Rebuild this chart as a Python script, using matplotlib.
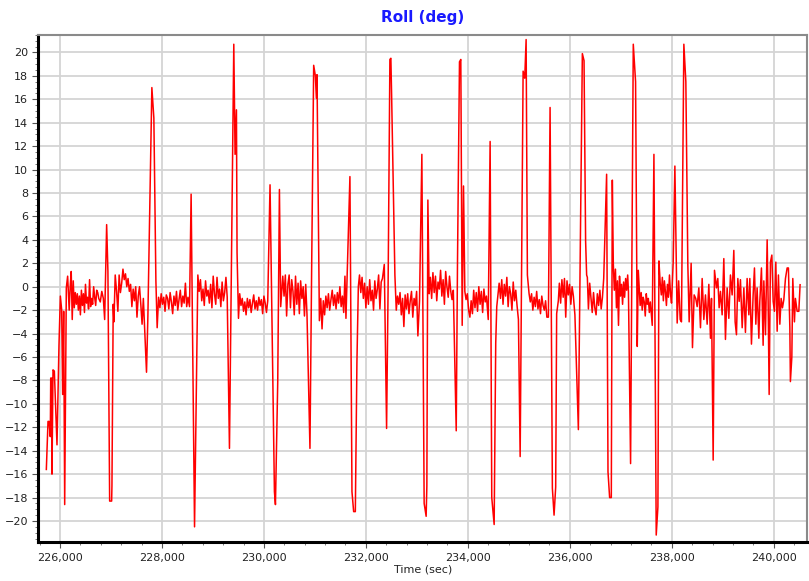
import matplotlib
matplotlib.use("Agg")
import matplotlib.pyplot as plt
from matplotlib.ticker import MultipleLocator, FuncFormatter

# ---- data: (time sec, roll deg), grouped by segment ----
seg_start = [(225732, -15.6), (225765, -11.5), (225785, -11.5), (225810, -12.8), (225818, -7.8),
             (225837, -7.8), (225843, -16.0), (225863, -7.1), (225889, -7.2), (225941, -13.5),
             (225980, -5.0), (226007, -0.8), (226033, -2.0), (226052, -9.2), (226072, -2.1),
             (226092, -18.6), (226124, -0.1)]
seg_a = [(226150, 0.9), (226180, -2.0), (226200, 0.0), (226220, 1.3), (226240, -2.8), (226260, 0.5),
         (226280, -1.8), (226300, -0.5), (226320, -1.5), (226340, -0.6), (226360, -2.0), (226380, -0.8),
         (226400, -2.4), (226420, -0.3), (226440, -1.6), (226460, -0.6), (226480, -2.2), (226500, 0.2),
         (226520, -1.4), (226540, -0.9), (226560, -1.9), (226580, 0.6), (226600, -1.7), (226620, -1.0),
         (226640, -1.5), (226660, 0.0), (226680, -0.9), (226700, -1.6), (226720, -0.3), (226740, -0.5),
         (226760, -1.0), (226790, -1.3), (226820, -0.4), (226850, -1.0), (226876, -2.8)]
spike_01 = [(226915, 5.3), (226940, 1.3), (226974, -18.3), (227013, -18.3), (227019, -17.0),
            (227044, -1.5), (227058, -3.0), (227083, 1.0)]
seg_b = [(227110, -0.4), (227135, -2.1), (227160, 1.0), (227185, -0.5), (227210, 0.3), (227235, 1.5),
         (227260, 0.6), (227285, 1.1), (227310, 0.0), (227335, 0.7), (227360, -0.4), (227385, 0.2),
         (227410, -1.7), (227435, -0.2), (227460, -1.2), (227485, 0.0), (227510, -2.6), (227535, -0.8),
         (227560, 0.0), (227585, -1.5), (227610, -3.2), (227635, -1.0)]
spike_02 = [(227697, -7.3), (227724, -2.5), (227802, 17.0), (227841, 14.4), (227881, 0.5),
            (227906, -3.5), (227934, -0.9)]
seg_c = [(227960, -1.8), (227985, -0.6), (228010, -1.5), (228035, -0.9), (228060, -2.1), (228085, -0.7),
         (228110, -1.0), (228135, -1.9), (228160, -0.5), (228185, -1.3), (228210, -2.3), (228235, -0.8),
         (228260, -1.6), (228285, -0.4), (228310, -2.0), (228335, -1.1), (228360, -0.3), (228385, -1.7),
         (228410, -0.8), (228435, -1.4), (228460, 0.3), (228485, -1.7), (228510, -0.9), (228541, -1.7)]
spike_03 = [(228572, 7.9), (228639, -20.5), (228704, 1.0)]
seg_d = [(228730, -0.4), (228755, 0.6), (228780, -1.2), (228805, -0.2), (228830, -1.6), (228855, 0.5),
         (228880, -0.8), (228905, -0.3), (228930, -1.4), (228955, 0.2), (228980, -1.8), (229005, 0.9),
         (229030, -0.6), (229055, -1.5), (229080, 0.8), (229105, -1.0), (229130, -0.2), (229155, -1.7),
         (229180, 0.4), (229205, -1.2), (229230, -0.5), (229255, 0.8), (229280, -0.9)]
spike_04 = [(229324, -13.8), (229409, 20.7), (229434, 11.3), (229461, 15.1), (229473, 2.9), (229501, -2.7)]
seg_e = [(229525, -0.6), (229550, -1.6), (229575, -1.0), (229600, -2.1), (229625, -1.3), (229650, -2.4),
         (229675, -1.0), (229700, -1.8), (229725, -1.1), (229750, -2.2), (229775, -1.4), (229800, -0.7),
         (229825, -1.9), (229850, -1.2), (229875, -2.0), (229900, -0.9), (229925, -1.6), (229950, -1.1),
         (229975, -2.3), (230000, -0.8), (230025, -1.4), (230050, -2.2), (230075, -1.2)]
spike_05 = [(230120, 8.7), (230206, -17.5), (230226, -18.6), (230271, -8.1), (230304, 8.3), (230329, -1.7)]
seg_f = [(230370, 0.9), (230395, -0.8), (230420, 1.0), (230445, -2.5), (230470, 0.2), (230495, 1.0),
         (230520, -1.8), (230545, 0.6), (230570, -0.4), (230595, -2.4), (230620, 0.9), (230645, -1.5),
         (230670, 0.3), (230695, -2.3), (230720, 0.5), (230745, -1.0), (230770, 0.0), (230795, -2.5),
         (230820, 0.2), (230845, -2.4)]
spike_06 = [(230903, -13.8), (230937, 1.9), (230976, 18.9), (231009, 18.0), (231029, 16.1),
            (231041, 18.1), (231088, -2.9)]
seg_g = [(231115, -1.0), (231140, -3.6), (231165, -1.2), (231190, -2.4), (231215, -0.8), (231240, -1.8),
         (231265, -0.6), (231290, -2.0), (231315, -1.1), (231340, -0.3), (231365, -1.6), (231390, -0.7),
         (231415, -1.9), (231440, -0.5), (231465, -1.4), (231490, 0.0), (231515, -1.7), (231540, -0.8),
         (231565, -2.2), (231589, 0.9), (231609, -2.7)]
spike_07 = [(231687, 9.4), (231727, -17.5), (231760, -19.2), (231793, -19.2), (231824, -6.5), (231852, 0.0)]
seg_h = [(231875, 1.0), (231900, -0.5), (231925, 0.8), (231950, -1.0), (231975, 0.3), (232000, -1.8),
         (232025, 0.0), (232050, -1.5), (232075, 0.6), (232100, -1.2), (232125, -0.3), (232150, -2.0),
         (232175, 0.5), (232200, -1.0), (232225, -0.2), (232250, 1.0), (232275, -1.9), (232300, 0.4),
         (232325, 0.7), (232361, 1.9)]
spike_08 = [(232406, -12.1), (232435, -0.4), (232471, 19.4), (232490, 19.5), (232504, 16.5),
            (232569, 1.0), (232596, -2.0)]
seg_i = [(232620, -0.8), (232645, -1.5), (232670, -0.5), (232695, -2.4), (232720, -1.0), (232745, -3.4),
         (232770, -0.7), (232795, -1.9), (232820, -0.6), (232845, -2.3), (232870, -1.2), (232895, -0.4),
         (232920, -2.6), (232945, -1.0), (232970, -1.6), (232995, -0.4), (233020, -4.2), (233052, -1.2)]
spike_09 = [(233098, 11.3), (233143, -18.5), (233182, -19.6), (233196, -17.0), (233216, 7.4), (233241, -0.6)]
seg_j = [(233265, 0.8), (233290, -1.0), (233315, 1.2), (233340, -0.5), (233365, 0.9), (233390, -1.2),
         (233415, 0.4), (233440, -0.2), (233465, 1.4), (233490, -0.8), (233515, 0.6), (233540, -1.5),
         (233565, 1.3), (233590, 0.0), (233615, -0.9), (233640, 0.9), (233665, -0.4), (233690, -1.1),
         (233715, -0.3)]
spike_10 = [(233772, -12.3), (233797, 2.1), (233836, 19.2), (233862, 19.4), (233889, -3.3),
            (233915, 8.6), (233941, -0.4)]
seg_k = [(233965, -1.1), (233990, -0.6), (234015, -2.0), (234040, -2.6), (234065, -1.2), (234090, -2.3),
         (234115, -0.3), (234140, -1.8), (234165, -0.5), (234190, -2.1), (234215, 0.0), (234240, -1.5),
         (234265, -0.4), (234290, -2.2), (234315, -0.2), (234340, -1.3), (234365, -0.8), (234400, -2.8)]
spike_11 = [(234437, 12.4), (234469, -18.0), (234516, -20.3), (234547, -4.8), (234567, -1.7), (234614, 0.3)]
seg_l = [(234640, -1.0), (234665, 0.6), (234690, -1.5), (234715, 0.2), (234740, -0.8), (234765, 0.8),
         (234790, -1.7), (234815, 0.0), (234840, -0.6), (234865, -2.0), (234890, 0.4), (234915, -1.2),
         (234940, -0.3), (234965, -1.6), (234992, -2.8)]
spike_12 = [(235026, -14.5), (235084, 18.4), (235116, 17.8), (235143, 21.1), (235168, 1.0), (235201, -0.6)]
seg_m = [(235225, -1.3), (235250, -0.6), (235275, -2.0), (235300, -0.9), (235325, -1.7), (235350, -0.4),
         (235375, -1.9), (235400, -1.1), (235425, -2.3), (235450, -0.8), (235475, -1.6), (235500, -2.0),
         (235525, -1.2), (235550, -2.6), (235580, -2.6)]
spike_13 = [(235613, 15.3), (235658, -17.2), (235691, -19.5), (235723, -17.1), (235742, -2.3), (235775, -1.2)]
seg_n = [(235795, 0.3), (235820, -1.4), (235845, 0.6), (235870, -0.9), (235895, 0.7), (235920, -2.6),
         (235945, 0.5), (235970, -0.7), (235995, 0.2), (236020, -1.5), (236045, 0.0), (236070, -0.8),
         (236100, -2.4)]
spike_14 = [(236168, -12.2), (236246, 19.9), (236279, 19.3), (236310, 3.9), (236330, 1.0), (236344, 0.8)]
seg_o = [(236365, -1.9), (236390, 0.3), (236415, -1.0), (236440, -2.2), (236465, -0.5), (236490, -1.8),
         (236515, -2.4), (236540, -0.6), (236565, -1.6), (236590, -0.3), (236615, -1.9), (236640, -0.9),
         (236665, 0.7)]
spike_15 = [(236722, 9.6), (236749, -15.8), (236781, -18.0), (236814, -18.0), (236834, 9.1),
            (236853, 2.0), (236873, -0.3)]
seg_p = [(236895, 1.5), (236915, -1.8), (236935, 0.5), (236955, -3.3), (236975, 0.9), (236995, -0.8),
         (237015, 0.2), (237035, -1.5), (237055, 0.4), (237075, -0.9), (237095, 0.7), (237115, -0.3),
         (237135, 1.0), (237150, -0.4)]
spike_16 = [(237192, -15.1), (237245, 20.7), (237290, 17.5), (237323, -5.1), (237343, 1.4)]
seg_q = [(237380, -1.6), (237400, -0.5), (237420, -2.0), (237440, -0.9), (237460, -1.3), (237480, -2.5),
         (237500, -0.6), (237520, -1.5), (237540, -1.0), (237560, -2.2), (237580, -1.3), (237617, -3.3)]
spike_17 = [(237650, 11.3), (237695, -21.2), (237728, -18.8), (237748, 2.2), (237773, 0.3)]
seg_r = [(237795, -0.7), (237815, 0.8), (237835, -1.2), (237855, 0.5), (237875, -0.4), (237895, -1.6),
         (237915, 0.2), (237935, -0.9), (237955, 1.0), (237975, -0.6), (237995, -1.4), (238028, 2.1)]
spike_18 = [(238061, 10.3), (238106, -3.1), (238135, 0.5), (238165, -2.8), (238190, -3.0),
            (238237, 20.7), (238276, 17.5), (238315, 1.9), (238341, -3.0), (238380, 2.0),
            (238406, -5.2), (238439, -0.7)]
seg_end = [(238470, -1.0), (238498, -1.7), (238531, -0.1), (238563, -3.5), (238596, 0.7), (238629, -2.8),
           (238661, -0.7), (238694, -3.2), (238727, 0.2), (238759, -4.4), (238779, -1.0), (238812, -14.8),
           (238838, 1.4), (238877, -0.1), (238903, 0.7), (238929, -1.8), (238955, -0.4), (238988, -2.4),
           (239021, 2.4), (239053, -4.5), (239086, -0.1), (239119, -2.7), (239151, 1.0), (239184, -0.7),
           (239217, 3.1), (239243, -3.0), (239269, -4.1), (239296, 0.7), (239322, -1.25), (239347, 0.6),
           (239381, -3.5), (239414, -0.1), (239445, -3.9), (239478, 0.7), (239512, -2.4), (239531, 0.7),
           (239563, -4.9), (239596, -0.7), (239622, 1.6), (239649, -3.2), (239674, -0.1), (239708, -4.4),
           (239727, -1.25), (239759, 1.6), (239792, -5.0), (239806, 0.5), (239838, -4.1), (239871, 4.0),
           (239890, -1.25), (239910, -9.2), (239935, 2.1), (239963, 2.7), (239989, -1.25), (240014, -2.1),
           (240041, 2.1), (240067, -3.8), (240092, 1.0), (240120, -3.2), (240145, -1.0), (240171, -1.8),
           (240198, -1.1), (240230, 0.7), (240263, 1.6), (240288, 1.6), (240316, -3.5), (240327, -8.1),
           (240355, -6.0), (240374, 0.7), (240406, -3.0), (240425, -1.0), (240459, -2.1), (240492, -2.1),
           (240517, 0.17)]

segments = [seg_start, seg_a, spike_01, seg_b, spike_02, seg_c, spike_03, seg_d, spike_04, seg_e,
            spike_05, seg_f, spike_06, seg_g, spike_07, seg_h, spike_08, seg_i, spike_09, seg_j,
            spike_10, seg_k, spike_11, seg_l, spike_12, seg_m, spike_13, seg_n, spike_14, seg_o,
            spike_15, seg_p, spike_16, seg_q, spike_17, seg_r, spike_18, seg_end]
time_sec = [p[0] for s in segments for p in s]
roll_deg = [p[1] for s in segments for p in s]

x_ticks = list(range(226000, 240001, 2000))
y_ticks = list(range(-20, 21, 2))

# ---- figure ----
fig = plt.figure(figsize=(8.09, 5.81), dpi=100)
ax = fig.add_axes([0.047, 0.067, 0.951, 0.873])
ax.plot(time_sec, roll_deg, color="#ff0000", lw=1.1, zorder=3)

ax.set_xlim(225569, 240660)
ax.set_ylim(-21.8, 21.5)
ax.set_xticks(x_ticks)
ax.set_yticks(y_ticks)
ax.xaxis.set_minor_locator(MultipleLocator(400))
ax.yaxis.set_minor_locator(MultipleLocator(0.5))
ax.xaxis.set_major_formatter(FuncFormatter(lambda v, p: f"{int(v):,}"))

ax.grid(True, which="major", color="#d4d4d4", lw=1.3, zorder=0)
ax.set_axisbelow(True)

for side in ("top", "right"):
    ax.spines[side].set_color("#8a8a8a")
    ax.spines[side].set_linewidth(1.5)
for side in ("left", "bottom"):
    ax.spines[side].set_color("black")
    ax.spines[side].set_linewidth(2.2)

ax.tick_params(axis="both", which="major", labelsize=8, length=4, width=0.8, color="#555555",
               labelcolor="#222222")
ax.tick_params(axis="both", which="minor", length=2, width=0.6, color="#666666")
ax.tick_params(axis="y", pad=3)
ax.tick_params(axis="x", pad=4)

ax.set_xlabel("Time (sec)", fontsize=8, color="#222222", labelpad=1)
ax.set_title("Roll (deg)", fontsize=11, fontweight="bold", color="#1a1aff", pad=9)

fig.savefig("out.png", dpi=100, facecolor="white")
